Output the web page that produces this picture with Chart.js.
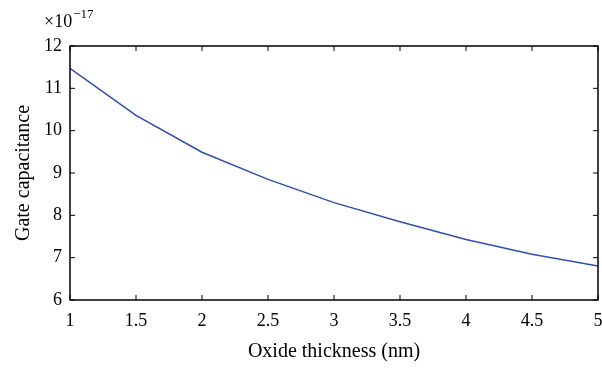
<!DOCTYPE html>
<html>
<head>
<meta charset="utf-8">
<script src="https://cdn.jsdelivr.net/npm/chart.js@4"></script>
<style>
  html, body { margin: 0; padding: 0; background: #fff; }
  canvas { display: block; }
</style>
</head>
<body>
<canvas id="chart" width="602" height="368"></canvas>
<script>
// oxide thickness (nm) and gate capacitance (x1e-17 F)
const thickness = [1, 1.5, 2, 2.5, 3, 3.5, 4, 4.5, 5];
const capacitance = [11.47, 10.36, 9.49, 8.85, 8.30, 7.85, 7.43, 7.08, 6.80];
const xTicks = [1, 1.5, 2, 2.5, 3, 3.5, 4, 4.5, 5];
const yTicks = [6, 7, 8, 9, 10, 11, 12];

const FONT = '"Liberation Serif", "DejaVu Serif", serif';

// box around the plot with inward ticks on all four sides, plus the exponent label
const frame = {
  id: 'frame',
  afterDraw(chart) {
    const ctx = chart.ctx;
    const a = chart.chartArea;
    const xs = chart.scales.x;
    const ys = chart.scales.y;
    const len = 5;
    ctx.save();
    ctx.strokeStyle = '#000';
    ctx.lineWidth = 1.5;
    ctx.strokeRect(a.left, a.top, a.right - a.left, a.bottom - a.top);
    ctx.lineWidth = 1;
    ctx.beginPath();
    xTicks.forEach(v => {
      const px = xs.getPixelForValue(v);
      ctx.moveTo(px, a.bottom); ctx.lineTo(px, a.bottom - len);
      ctx.moveTo(px, a.top); ctx.lineTo(px, a.top + len);
    });
    yTicks.forEach(v => {
      const py = ys.getPixelForValue(v);
      ctx.moveTo(a.left, py); ctx.lineTo(a.left + len, py);
      ctx.moveTo(a.right, py); ctx.lineTo(a.right - len, py);
    });
    ctx.stroke();

    ctx.fillStyle = '#000';
    ctx.textBaseline = 'alphabetic';
    ctx.textAlign = 'left';
    ctx.font = '18px ' + FONT;
    ctx.fillText('\u00d710', 44, 27);
    const w = ctx.measureText('\u00d710').width;
    ctx.font = '13px ' + FONT;
    ctx.fillText('\u221217', 44 + w + 1, 18);
    ctx.restore();
  }
};

function noPad(scale) {
  scale.paddingLeft = 0;
  scale.paddingRight = 0;
  scale.paddingTop = 0;
  scale.paddingBottom = 0;
}

new Chart(document.getElementById('chart'), {
  type: 'line',
  data: {
    datasets: [{
      data: thickness.map((t, i) => ({ x: t, y: capacitance[i] })),
      borderColor: '#2f4fae',
      borderWidth: 1.5,
      pointRadius: 0,
      tension: 0,
      fill: false,
    }],
  },
  options: {
    responsive: false,
    animation: false,
    layout: { padding: { left: 0, top: 46, right: 4, bottom: 0 } },
    plugins: { legend: { display: false }, tooltip: { enabled: false } },
    scales: {
      x: {
        type: 'linear',
        min: 1,
        max: 5,
        afterFit(scale) { scale.height = 68; noPad(scale); },
        afterBuildTicks(scale) { scale.ticks = xTicks.map(v => ({ value: v })); },
        grid: { display: false, drawTicks: false },
        border: { display: false },
        ticks: {
          color: '#000',
          padding: 10,
          maxRotation: 0,
          font: { family: FONT, size: 18 },
          callback: v => String(v),
        },
        title: {
          display: true,
          text: 'Oxide thickness (nm)',
          color: '#000',
          font: { family: FONT, size: 20 },
          padding: { top: 0, bottom: 4 },
        },
      },
      y: {
        min: 6,
        max: 12,
        afterFit(scale) { scale.width = 70; noPad(scale); },
        afterBuildTicks(scale) { scale.ticks = yTicks.map(v => ({ value: v })); },
        grid: { display: false, drawTicks: false },
        border: { display: false },
        ticks: {
          color: '#000',
          padding: 8,
          font: { family: FONT, size: 18 },
          callback: v => String(v),
        },
        title: {
          display: true,
          text: 'Gate capacitance',
          color: '#000',
          font: { family: FONT, size: 20 },
          padding: { top: 12, bottom: 0 },
        },
      },
    },
  },
  plugins: [frame],
});
</script>
</body>
</html>
